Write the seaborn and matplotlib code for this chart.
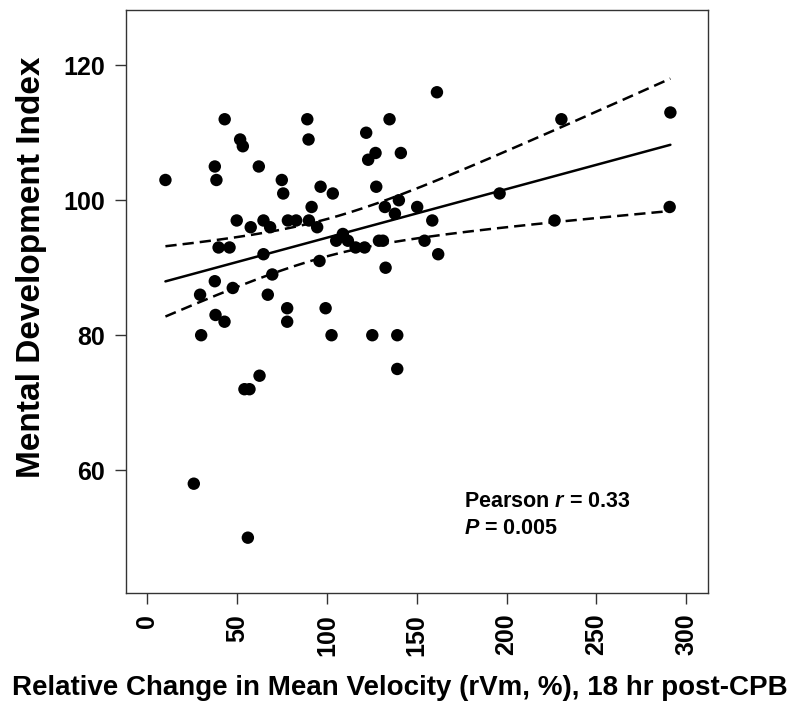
import matplotlib
matplotlib.use("Agg")
import matplotlib.pyplot as plt
import seaborn as sns
import numpy as np
import pandas as pd

# rVm (%) vs MDI
rvm = [10, 43, 89, 51.6, 53.1, 89.7, 37.5, 62, 38.4, 74.8,
       75.6, 96.4, 103.2, 91.4, 49.7, 57.5, 64.6, 68.3, 78.2, 82.8,
       89.9, 94.5, 39.6, 45.7, 64.6, 105.1, 37.5, 29.3, 47.5, 69.5,
       67, 95.8, 37.9, 42.9, 77.8, 77.8, 99.2, 29.9, 102.5, 62.4,
       54, 56.8, 25.8, 55.9, 161.2, 134.8, 121.8, 127, 122.9, 141.1,
       127.4, 140, 132.2, 137.8, 150.2, 158.6, 196.1, 108.8, 111.6, 115.9,
       120.9, 128.9, 131.1, 154.3, 161.9, 132.6, 125.2, 139.1, 139.1, 230.5,
       291.2, 226.7, 290.8]
mdi = [103, 112, 112, 109, 108, 109, 105, 105, 103, 103,
       101, 102, 101, 99, 97, 96, 97, 96, 97, 97,
       97, 96, 93, 93, 92, 94, 88, 86, 87, 89,
       86, 91, 83, 82, 84, 82, 84, 80, 80, 74,
       72, 72, 58, 50, 116, 112, 110, 107, 106, 107,
       102, 100, 99, 98, 99, 97, 101, 95, 94, 93,
       93, 94, 94, 94, 92, 90, 80, 80, 75, 112,
       113, 97, 99]

x_ticks = [0, 50, 100, 150, 200, 250, 300]
y_ticks = [60, 80, 100, 120]
stats_text = ["Pearson $\\mathit{r}$ = 0.33", "$\\mathit{P}$ = 0.005"]

df = pd.DataFrame({"rVm": rvm, "MDI": mdi})

sns.set_style("white")
plt.rcParams["font.family"] = ["Liberation Sans", "DejaVu Sans"]
plt.rcParams["font.weight"] = "bold"
plt.rcParams["text.color"] = "black"
plt.rcParams["axes.labelcolor"] = "black"
plt.rcParams["xtick.color"] = "black"
plt.rcParams["ytick.color"] = "black"
plt.rcParams["mathtext.fontset"] = "custom"
plt.rcParams["mathtext.it"] = "Liberation Sans:italic:bold"
plt.rcParams["mathtext.bf"] = "Liberation Sans:bold"
plt.rcParams["mathtext.rm"] = "Liberation Sans:bold"

fig = plt.figure(figsize=(7.97, 7.08), dpi=100)
ax = fig.add_axes([0.158, 0.1624, 0.730, 0.8236])

sns.scatterplot(data=df, x="rVm", y="MDI", ax=ax, color="black", s=80,
                edgecolor="none", legend=False, zorder=3)

# least squares fit with 95% confidence band
x = df["rVm"].to_numpy()
y = df["MDI"].to_numpy()
n = len(x)
slope, intercept = np.polyfit(x, y, 1)
resid = y - (slope * x + intercept)
s_err = np.sqrt(np.sum(resid ** 2) / (n - 2))
sxx = np.sum((x - x.mean()) ** 2)
xf = np.linspace(x.min(), x.max(), 200)
yf = slope * xf + intercept
half = 1.994 * s_err * np.sqrt(1 / n + (xf - x.mean()) ** 2 / sxx)

ax.plot(xf, yf, color="black", lw=1.8, zorder=2)
ax.plot(xf, yf + half, color="black", lw=1.8, ls=(0, (4.5, 2.4)), zorder=2)
ax.plot(xf, yf - half, color="black", lw=1.8, ls=(0, (4.5, 2.4)), zorder=2)

ax.set_xlim(-12, 312)
ax.set_ylim(41.8, 128.2)
ax.set_xticks(x_ticks)
ax.set_yticks(y_ticks)
ax.tick_params(axis="both", direction="out", length=8, width=1, color="#333333",
               labelsize=18, pad=7, bottom=True, left=True)
ax.tick_params(axis="x", labelrotation=90)
for lab in ax.get_xticklabels() + ax.get_yticklabels():
    lab.set_fontweight("bold")
for sp in ax.spines.values():
    sp.set_color("#333333")
    sp.set_linewidth(1)

ax.set_xlabel("Relative Change in Mean Velocity (rVm, %), 18 hr post-CPB",
              fontsize=20, fontweight="bold", va="center")
ax.set_ylabel("Mental Development Index", fontsize=24, fontweight="bold", va="center")
ax.xaxis.set_label_coords(0.471, -0.163)
ax.yaxis.set_label_coords(-0.163, 0.559)

ax.text(176.5, 54.5, stats_text[0], fontsize=15.5, fontweight="bold", ha="left")
ax.text(176.5, 50.5, stats_text[1], fontsize=15.5, fontweight="bold", ha="left")

fig.savefig("out.png", dpi=100)
